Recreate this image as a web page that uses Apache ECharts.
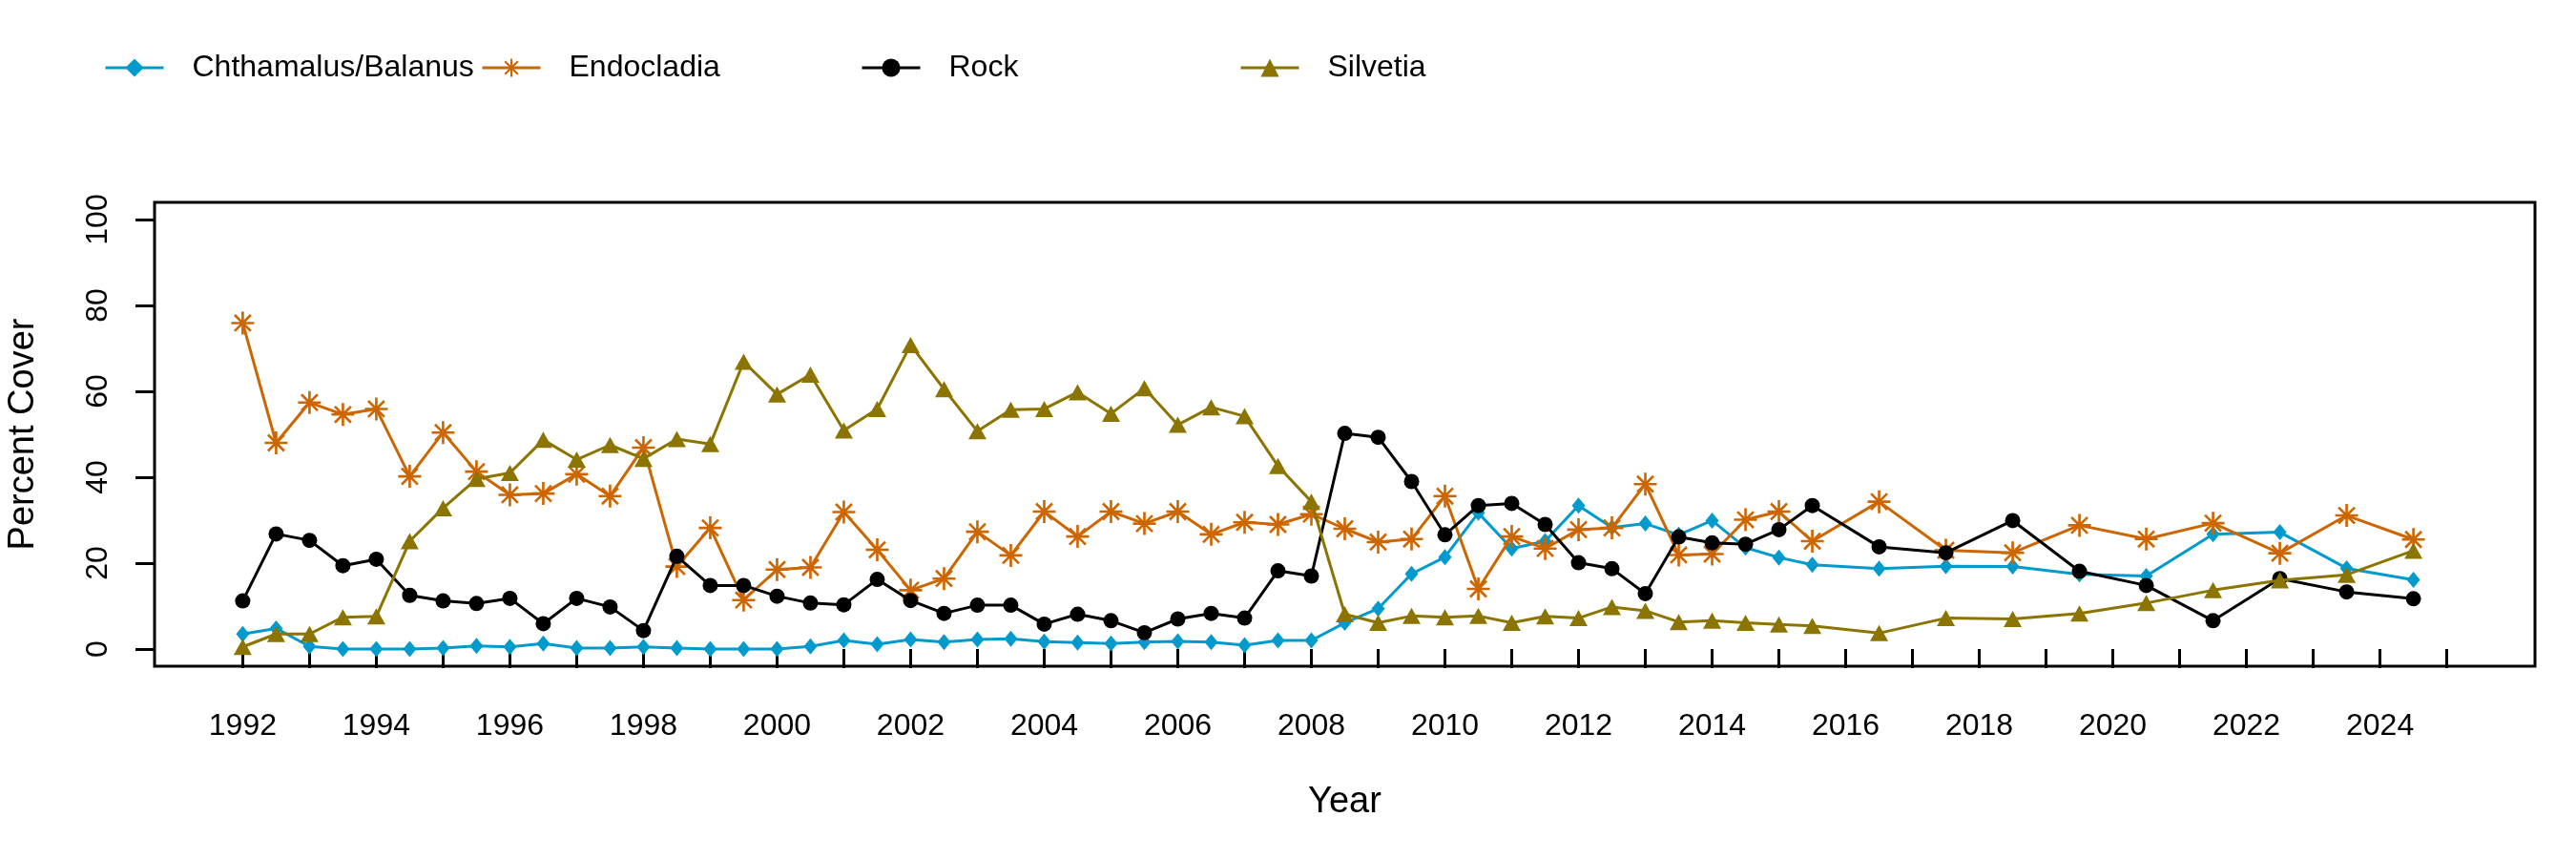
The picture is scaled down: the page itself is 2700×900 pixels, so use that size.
<!DOCTYPE html>
<html>
<head>
<meta charset="utf-8">
<script src="https://cdn.jsdelivr.net/npm/echarts@6/dist/echarts.min.js"></script>
<style>
  html, body { margin: 0; padding: 0; background: #ffffff; }
  #chart { width: 2700px; height: 900px; }
</style>
</head>
<body>
<div id="chart"></div>
<script>
// ---- Data ----
const years = [
  1992, 1992.5, 1993, 1993.5, 1994, 1994.5, 1995, 1995.5, 1996, 1996.5,
  1997, 1997.5, 1998, 1998.5, 1999, 1999.5, 2000, 2000.5, 2001, 2001.5,
  2002, 2002.5, 2003, 2003.5, 2004, 2004.5, 2005, 2005.5, 2006, 2006.5,
  2007, 2007.5, 2008, 2008.5, 2009, 2009.5, 2010, 2010.5, 2011, 2011.5,
  2012, 2012.5, 2013, 2013.5, 2014, 2014.5, 2015, 2015.5, 2016.5, 2017.5,
  2018.5, 2019.5, 2020.5, 2021.5, 2022.5, 2023.5, 2024.5
];
const chthamalus = [
  3.5, 4.8, 0.6, 0, 0, 0, 0.2, 0.7, 0.5, 1.3,
  0.2, 0.2, 0.5, 0.2, 0, 0, 0, 0.6, 2.0, 1.1,
  2.2, 1.6, 2.2, 2.4, 1.7, 1.5, 1.3, 1.6, 1.8, 1.6,
  0.9, 2.0, 2.0, 6.1, 9.4, 17.5, 21.4, 31.7, 23.4, 25.1,
  33.4, 28.3, 29.2, 26.6, 29.9, 23.6, 21.3, 19.6, 18.7, 19.3,
  19.2, 17.4, 17.0, 26.7, 27.2, 18.8, 16.1
];
const endocladia = [
  75.9, 48.0, 57.4, 54.6, 55.9, 40.2, 50.4, 41.3, 35.9, 36.2,
  40.7, 35.6, 46.9, 19.2, 28.2, 11.4, 18.5, 19.0, 31.9, 23.1,
  13.7, 16.4, 27.3, 21.8, 32.0, 26.2, 32.0, 29.2, 32.0, 26.7,
  29.5, 29.0, 31.4, 28.0, 24.9, 25.6, 35.6, 14.0, 26.2, 23.4,
  27.8, 28.2, 38.4, 21.9, 22.1, 30.1, 32.0, 25.1, 34.3, 23.0,
  22.4, 28.8, 25.6, 29.3, 22.3, 31.1, 25.5
];
const rock = [
  11.2, 26.8, 25.3, 19.4, 20.9, 12.5, 11.2, 10.6, 11.8, 5.9,
  11.8, 9.8, 4.3, 21.6, 14.8, 14.8, 12.3, 10.7, 10.3, 16.2,
  11.3, 8.3, 10.2, 10.2, 5.8, 8.1, 6.6, 3.8, 7.0, 8.3,
  7.2, 18.2, 17.0, 50.2, 49.3, 39.0, 26.6, 33.4, 33.9, 29.0,
  20.1, 18.7, 12.9, 26.1, 24.7, 24.4, 27.8, 33.4, 23.8, 22.4,
  29.9, 18.1, 14.8, 6.6, 16.4, 13.3, 11.7
];
const silvetia = [
  0.5, 3.5, 3.5, 7.4, 7.6, 25.1, 32.8, 39.6, 41.0, 48.7,
  44.1, 47.5, 44.3, 48.9, 47.7, 66.9, 59.3, 63.9, 50.9, 55.9,
  70.8, 60.5, 50.7, 55.7, 55.9, 59.8, 54.8, 60.7, 52.2, 56.3,
  54.2, 42.6, 34.3, 8.1, 6.1, 7.7, 7.4, 7.7, 6.1, 7.6,
  7.2, 9.8, 8.9, 6.3, 6.6, 6.1, 5.7, 5.4, 3.7, 7.2,
  7.0, 8.3, 10.7, 13.7, 16.0, 17.3, 22.9
];
const seriesNames = ['Chthamalus/Balanus', 'Endocladia', 'Rock', 'Silvetia'];
const xTickYears = [1992,1993,1994,1995,1996,1997,1998,1999,2000,2001,2002,2003,2004,2005,2006,2007,2008,2009,2010,2011,2012,2013,2014,2015,2016,2017,2018,2019,2020,2021,2022,2023,2024,2025];
const xLabelYears = [1992,1994,1996,1998,2000,2002,2004,2006,2008,2010,2012,2014,2016,2018,2020,2022,2024];
const yTicks = [0, 20, 40, 60, 80, 100];

// ---- Styles ----
const FONT = "'Liberation Sans', Arial, Helvetica, sans-serif";
const colors = ['#009ACD', '#CD6600', '#000000', '#8B7500'];
const asterisk = 'path://M89,0 L111,0 L111,200 L89,200 Z M0,89 L200,89 L200,111 L0,111 Z ' +
  'M37.1,21.5 L178.5,162.9 L162.9,178.5 L21.5,37.1 Z M178.5,37.1 L37.1,178.5 L21.5,162.9 L162.9,21.5 Z';
const symbols = ['diamond', asterisk, 'circle', 'triangle'];
const symbolSizes = [[14, 17], 24, 16, [19, 17]];
const valuesList = [chthamalus, endocladia, rock, silvetia];

function pairs(vals) { return years.map((y, i) => [y, vals[i]]); }

const series = seriesNames.map((name, k) => ({
  name: name,
  type: 'line',
  data: pairs(valuesList[k]),
  symbol: symbols[k],
  symbolSize: symbolSizes[k],
  showAllSymbol: true,
  color: colors[k],
  lineStyle: { color: colors[k], width: 3 },
  itemStyle: { color: colors[k], opacity: 1 },
  emphasis: { disabled: true },
  z: 2 + k
}));

const legendLefts = [109, 504, 902, 1299];
const legends = seriesNames.map((name, k) => ({
  data: [name],
  left: legendLefts[k],
  top: 55,
  padding: 0,
  itemWidth: 61,
  itemHeight: 24,
  selectedMode: false,
  lineStyle: { width: 3, color: colors[k] },
  itemStyle: { color: colors[k] },
  textStyle: { fontSize: 32, fontFamily: FONT, color: '#000', padding: [0, 0, 0, 25] }
}));

const chart = echarts.init(document.getElementById('chart'), null, { renderer: 'canvas' });
chart.setOption({
  animation: false,
  backgroundColor: '#ffffff',
  legend: legends,
  grid: {
    left: 162, right: 43, top: 212, bottom: 202,
    show: true, borderColor: '#000', borderWidth: 3, backgroundColor: 'transparent',
    outerBoundsMode: 'none'
  },
  xAxis: {
    type: 'value',
    min: 1990.68, max: 2026.32,
    name: 'Year', nameLocation: 'middle', nameGap: 124,
    nameTextStyle: { fontSize: 38, fontFamily: FONT, color: '#000' },
    axisLine: { show: false },
    axisTick: { show: true, customValues: xTickYears, length: 20, inside: false, lineStyle: { color: '#000', width: 3 } },
    axisLabel: { show: true, customValues: xLabelYears, fontSize: 32, fontFamily: FONT, color: '#000', margin: 47,
      formatter: v => String(v) },
    splitLine: { show: false }
  },
  yAxis: {
    type: 'value',
    min: -4, max: 104,
    name: 'Percent Cover', nameLocation: 'middle', nameRotate: 90, nameGap: 118,
    nameTextStyle: { fontSize: 38, fontFamily: FONT, color: '#000' },
    axisLine: { show: false },
    axisTick: { show: true, customValues: yTicks, length: 20, inside: false, lineStyle: { color: '#000', width: 3 } },
    axisLabel: { show: true, customValues: yTicks, rotate: 90, fontSize: 32, fontFamily: FONT, color: '#000', margin: 43,
      formatter: v => String(v) },
    splitLine: { show: false }
  },
  series: series
});
</script>
</body>
</html>
